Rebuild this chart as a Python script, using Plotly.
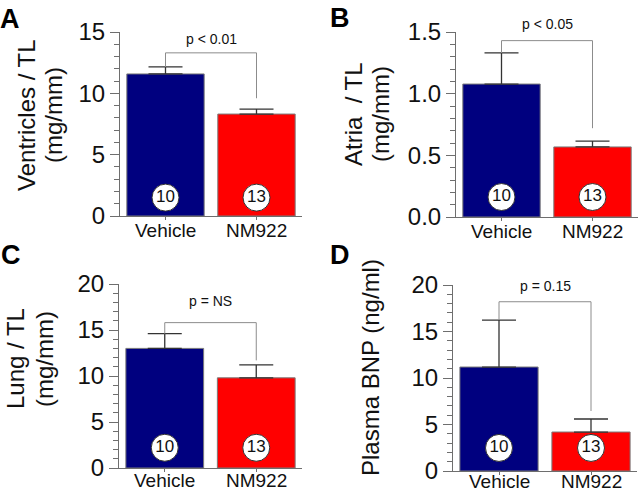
import plotly.graph_objects as go

# ---------------- data ----------------
categories = ["Vehicle", "NM922"]
n_counts = [10, 13]
panel_letters = ["A", "B", "C", "D"]

ventricles_mean = [11.58, 8.31]
ventricles_sem = [0.57, 0.41]
atria_mean = [1.078, 0.568]
atria_sem = [0.252, 0.048]
lung_mean = [13.0, 9.8]
lung_sem = [1.6, 1.4]
bnp_mean = [11.18, 4.19]
bnp_sem = [5.05, 1.40]

p_labels = ["p < 0.01", "p < 0.05", "p = NS", "p = 0.15"]
bracket_top = [13.3, 1.43, 15.8, 18.2]
bracket_right_end = [9.6, 0.72, 11.7, 6.45]

y_titles = [["Ventricles / TL", "(mg/mm)"], ["Atria  / TL", "(mg/mm)"],
            ["Lung / TL", "(mg/mm)"], ["Plasma BNP (ng/ml)"]]
y_max = [15, 1.5, 20, 20]
y_major = [5, 0.5, 5, 5]
y_minor = [1, 0.1, 1, 1]
y_fmt = ["d", ".1f", "d", "d"]

means = [ventricles_mean, atria_mean, lung_mean, bnp_mean]
sems = [ventricles_sem, atria_sem, lung_sem, bnp_sem]

# ---------------- layout geometry (pixels) ----------------
W, H = 641, 492
dom_px = [((120, 302), (32, 216)), ((456, 638), (32, 217)),
          ((119, 302), (284, 468)), ((453, 637), (285, 471))]
title_x_px = [[26, 53], [354, 381], [15, 44], [370]]
title_y_px = [115, 114, 359, 367]
letter_pos = [(-2, 19), (328, 18), (-1, 255), (328, 255)]
circle_frac = [0.10, 0.108, 0.11, 0.124]
p_shift = [4, 7, 12, 6]
label_shift = [-15, -15, -12, -10]

FONT = "Liberation Sans, Arial, Helvetica, sans-serif"
BLUE = "#00007F"
RED = "#FF0000"
AXC = "#6e6e6e"

fig = go.Figure()
annotations = []
shapes = []

for i in range(4):
    ax = "" if i == 0 else str(i + 1)
    xr, yr = "x" + ax, "y" + ax
    (x0p, x1p), (y0p, y1p) = dom_px[i]
    xs = [0, 1]
    fig.add_trace(go.Bar(
        x=xs, y=means[i], width=0.85,
        marker=dict(color=[BLUE, RED], line=dict(color="#7a7a7a", width=1)),
        error_y=dict(type="data", symmetric=False, array=sems[i],
                     arrayminus=[0, 0], color="#333333", thickness=1.3, width=17),
        xaxis=xr, yaxis=yr, showlegend=False, hoverinfo="skip",
    ))
    cy = circle_frac[i] * y_max[i]
    fig.add_trace(go.Scatter(
        x=xs, y=[cy, cy], mode="markers+text",
        text=[str(n) for n in n_counts], textposition="middle center",
        textfont=dict(family=FONT, size=17, color="#111111"),
        marker=dict(size=27, color="white", line=dict(color="#333333", width=1)),
        xaxis=xr, yaxis=yr, showlegend=False, hoverinfo="skip", cliponaxis=False,
    ))
    # significance bracket
    left_end = means[i][0] + sems[i][0]
    top = bracket_top[i]
    shapes.append(dict(
        type="path", xref=xr, yref=yr,
        path=f"M 0,{left_end} L 0,{top} L 1,{top} L 1,{bracket_right_end[i]}",
        line=dict(color="#8c8c8c", width=1),
    ))
    annotations.append(dict(
        text=p_labels[i], x=0.5, y=top, xref=xr, yref=yr, xanchor="center",
        yanchor="bottom", yshift=p_shift[i], showarrow=False,
        font=dict(family=FONT, size=14, color="#111111"),
    ))
    # category labels
    for xv, cat in zip(xs, categories):
        annotations.append(dict(
            text=cat, x=xv, y=0, xref=xr, yref=yr + " domain", xanchor="center",
            yanchor="middle", yshift=label_shift[i], showarrow=False,
            font=dict(family=FONT, size=19, color="#111111"),
        ))
    # axes
    fig.update_layout(**{
        "xaxis" + ax: dict(
            domain=[x0p / W, x1p / W], anchor=yr, range=[-0.5, 1.5],
            tickmode="array", tickvals=xs, showticklabels=False,
            showline=True, linecolor=AXC, linewidth=1,
            ticks="outside", ticklen=3, tickcolor=AXC,
            showgrid=False, zeroline=False, fixedrange=True, automargin=False,
        ),
        "yaxis" + ax: dict(
            domain=[1 - y1p / H, 1 - y0p / H], anchor=xr, range=[0, y_max[i]],
            tickmode="linear", tick0=0, dtick=y_major[i], tickformat=y_fmt[i],
            showline=True, linecolor=AXC, linewidth=1,
            ticks="outside", ticklen=9, tickcolor=AXC, tickwidth=1,
            minor=dict(ticks="outside", ticklen=5, dtick=y_minor[i], tick0=0,
                       tickcolor=AXC, tickwidth=1),
            tickfont=dict(family=FONT, size=24, color="#111111"),
            showgrid=False, zeroline=False, fixedrange=True, automargin=False,
        ),
    })
    # y titles
    for line, tx in zip(y_titles[i], title_x_px[i]):
        annotations.append(dict(
            text=line, x=tx / W, y=1 - title_y_px[i] / H, xref="paper", yref="paper",
            xanchor="center", yanchor="middle", textangle=-90, showarrow=False,
            font=dict(family=FONT, size=24, color="#111111"),
        ))
    lx, ly = letter_pos[i]
    annotations.append(dict(
        text="<b>" + panel_letters[i] + "</b>", x=lx / W, y=1 - ly / H,
        xref="paper", yref="paper", xanchor="left", yanchor="middle",
        showarrow=False, font=dict(family=FONT, size=27, color="#000000"),
    ))

fig.update_layout(
    width=W, height=H, margin=dict(l=0, r=0, t=0, b=0, autoexpand=False),
    paper_bgcolor="white", plot_bgcolor="white",
    annotations=annotations, shapes=shapes, bargap=0,
)
fig.write_html(
    "out.html",
    config={"displayModeBar": False, "staticPlot": True},
    post_script="document.body.style.margin='0';document.body.style.overflow='hidden';",
)
